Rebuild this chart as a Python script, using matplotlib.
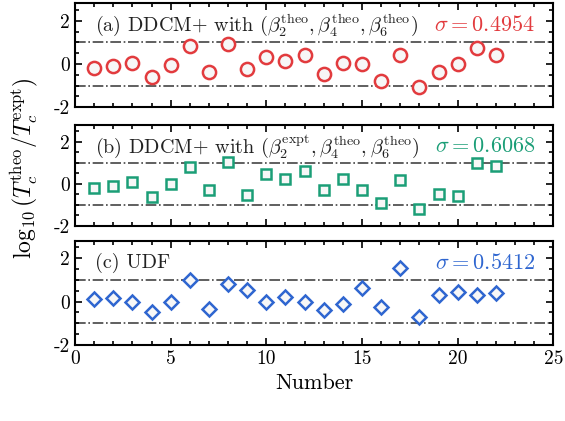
import matplotlib
matplotlib.use('Agg')
import matplotlib.pyplot as plt
import numpy as np
from matplotlib.ticker import MultipleLocator

plt.rcParams['font.family'] = 'serif'
plt.rcParams['font.serif'] = ['cmr10']
plt.rcParams['mathtext.fontset'] = 'cm'
plt.rcParams['axes.unicode_minus'] = False

# Data: log10(Tc_theo / Tc_expt) per nucleus number
number = list(range(1, 23))
ddcm_theo = [-0.18, -0.11, 0.05, -0.60, -0.05, 0.82, -0.37, 0.92, -0.22, 0.31, 0.12,
             0.40, -0.46, 0.05, 0.00, -0.80, 0.40, -1.08, -0.37, 0.00, 0.72, 0.43]
ddcm_expt = [-0.18, -0.11, 0.08, -0.62, 0.00, 0.80, -0.31, 1.03, -0.51, 0.46, 0.22,
             0.62, -0.31, 0.23, -0.31, -0.89, 0.18, -1.18, -0.49, -0.58, 0.98, 0.85]
udf = [0.12, 0.17, 0.00, -0.49, 0.00, 0.97, -0.34, 0.82, 0.55, 0.00, 0.20,
       0.00, -0.38, -0.11, 0.62, -0.26, 1.55, -0.72, 0.32, 0.46, 0.32, 0.38]

labels = [r'(a) DDCM+ with $(\beta_2^{\rm theo},\beta_4^{\rm theo},\beta_6^{\rm theo})$',
          r'(b) DDCM+ with $(\beta_2^{\rm expt},\beta_4^{\rm theo},\beta_6^{\rm theo})$',
          r'(c) UDF']
sigmas = [r'$\sigma=0.4954$', r'$\sigma=0.6068$', r'$\sigma=0.5412$']
colors = ['#e23b3e', '#1b9e77', '#2f66d0']
markers = ['o', 's', 'D']
msizes = [9.5, 7.5, 7.5]
series = [ddcm_theo, ddcm_expt, udf]

fig = plt.figure(figsize=(5.65, 4.21), dpi=100)
boxes = [[0.1327, 0.7451, 0.8466, 0.2466],
         [0.1327, 0.4632, 0.8466, 0.2400],
         [0.1327, 0.1805, 0.8466, 0.2477]]

for i in range(3):
    ax = fig.add_axes(boxes[i])
    ax.axhline(1, color='#444444', lw=1.2, ls='-.', zorder=1)
    ax.axhline(-1, color='#444444', lw=1.2, ls='-.', zorder=1)
    ax.plot(number, series[i], ls='none', marker=markers[i], ms=msizes[i],
            mfc='#f7f7f7', mec=colors[i], mew=1.8, zorder=3)
    ax.set_xlim(0, 25)
    ax.set_ylim(-2, 2.8)
    ax.xaxis.set_major_locator(MultipleLocator(5))
    ax.xaxis.set_minor_locator(MultipleLocator(1))
    ax.yaxis.set_major_locator(MultipleLocator(2))
    ax.yaxis.set_minor_locator(MultipleLocator(0.5))
    ax.tick_params(which='both', direction='in', top=True, right=True, width=1.2,
                   labelsize=14)
    ax.tick_params(which='major', length=5)
    ax.tick_params(which='minor', length=3)
    for s in ax.spines.values():
        s.set_linewidth(1.5)
    if i < 2:
        ax.set_xticklabels([])
    else:
        ax.set_xlabel('Number', fontsize=16)
    ax.text(0.042, 0.79, labels[i], transform=ax.transAxes, fontsize=14.5,
            ha='left', va='center', color='#222222')
    ax.text(0.962, 0.79, sigmas[i], transform=ax.transAxes, fontsize=16,
            ha='right', va='center', color=colors[i])

fig.text(0.042, 0.60, r'$\log_{10}(T_c^{\rm theo}/T_c^{\rm expt})$', fontsize=17,
         rotation=90, ha='center', va='center')

fig.savefig('out.png', dpi=100)
